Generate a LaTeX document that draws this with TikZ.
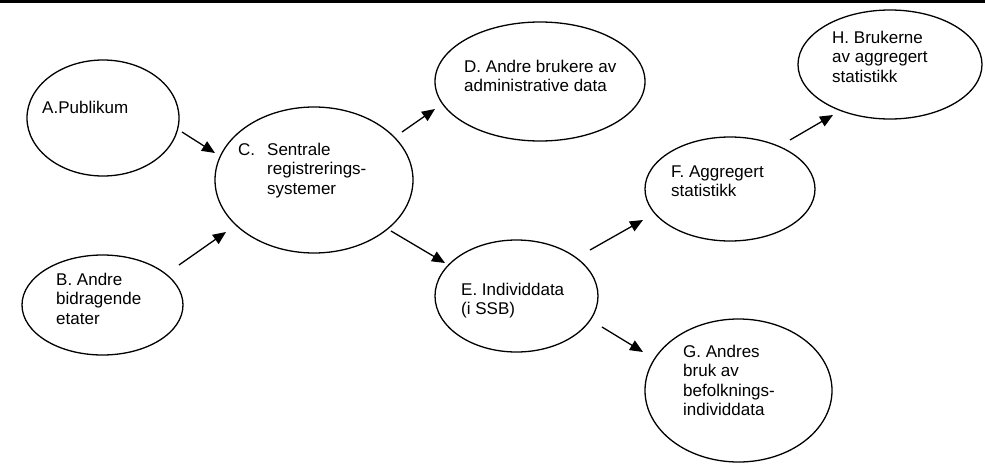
\documentclass[tikz,border=0pt]{standalone}
\usepackage{fontspec}
\setmainfont{Liberation Sans}
\usetikzlibrary{shapes.geometric,arrows.meta}
\newcommand\mylines[1]{\begin{tabular}[t]{@{}l@{}}#1\end{tabular}}
\begin{document}
\begin{tikzpicture}[x=1pt,y=-1pt,
  oval/.style={draw, ellipse, inner sep=0pt, line width=1.3pt},
  lbl/.style={anchor=base west, inner sep=0pt, font=\fontsize{17}{19.5}\selectfont},
  arr/.style={line width=1.3pt, -{Triangle[length=13pt,width=11pt]}}]
\useasboundingbox (0,0) rectangle (985,474);
% top rule
\coordinate (L1) at (0,1.5);
\coordinate (L2) at (985,1.5);
\draw[line width=3pt] (L1) -- (L2);
% ellipses
\node[oval, minimum width=152pt, minimum height=116pt] (A) at (103,118) {};
\node[oval, minimum width=161pt, minimum height=100pt] (B) at (102.5,305) {};
\node[oval, minimum width=198pt, minimum height=146pt] (C) at (314,180) {};
\node[oval, minimum width=210pt, minimum height=119pt] (D) at (540,81.5) {};
\node[oval, minimum width=163pt, minimum height=112pt] (E) at (516.5,296) {};
\node[oval, minimum width=170pt, minimum height=104pt] (F) at (730,189) {};
\node[oval, minimum width=187pt, minimum height=143pt] (G) at (738.5,390.5) {};
\node[oval, minimum width=184pt, minimum height=109pt] (H) at (890,64.5) {};
% labels
\node[lbl] (tA) at (42,113) {\mylines{A.Publikum}};
\node[lbl] (tB) at (56,285) {\mylines{B. Andre\\bidragende\\etater}};
\node[lbl] (tC) at (238,155) {\begin{tabular}[t]{@{}l@{\hspace{12pt}}l@{}}C. & Sentrale\\ & registrerings-\\ & systemer\end{tabular}};
\node[lbl] (tD) at (464,72) {\mylines{D. Andre brukere av\\administrative data}};
\node[lbl] (tE) at (461,295) {\mylines{E. Individdata\\(i SSB)}};
\node[lbl] (tF) at (671,177) {\mylines{F. Aggregert\\statistikk}};
\node[lbl] (tG) at (683,357) {\mylines{G. Andres\\bruk av\\befolknings-\\individdata}};
\node[lbl] (tH) at (832,43) {\mylines{H. Brukerne\\av aggregert\\statistikk}};
% arrow end points
\coordinate (ac1) at (182,132); \coordinate (ac2) at (215,153);
\coordinate (bc1) at (179,265); \coordinate (bc2) at (226,232);
\coordinate (cd1) at (402,132); \coordinate (cd2) at (435,109);
\coordinate (ce1) at (391,231); \coordinate (ce2) at (445,263);
\coordinate (ef1) at (590,250); \coordinate (ef2) at (643,220);
\coordinate (fh1) at (790,140); \coordinate (fh2) at (833,115);
\coordinate (eg1) at (602,327); \coordinate (eg2) at (643,352);
\draw[arr] (ac1) -- (ac2);
\draw[arr] (bc1) -- (bc2);
\draw[arr] (cd1) -- (cd2);
\draw[arr] (ce1) -- (ce2);
\draw[arr] (ef1) -- (ef2);
\draw[arr] (fh1) -- (fh2);
\draw[arr] (eg1) -- (eg2);
\end{tikzpicture}
\end{document}
